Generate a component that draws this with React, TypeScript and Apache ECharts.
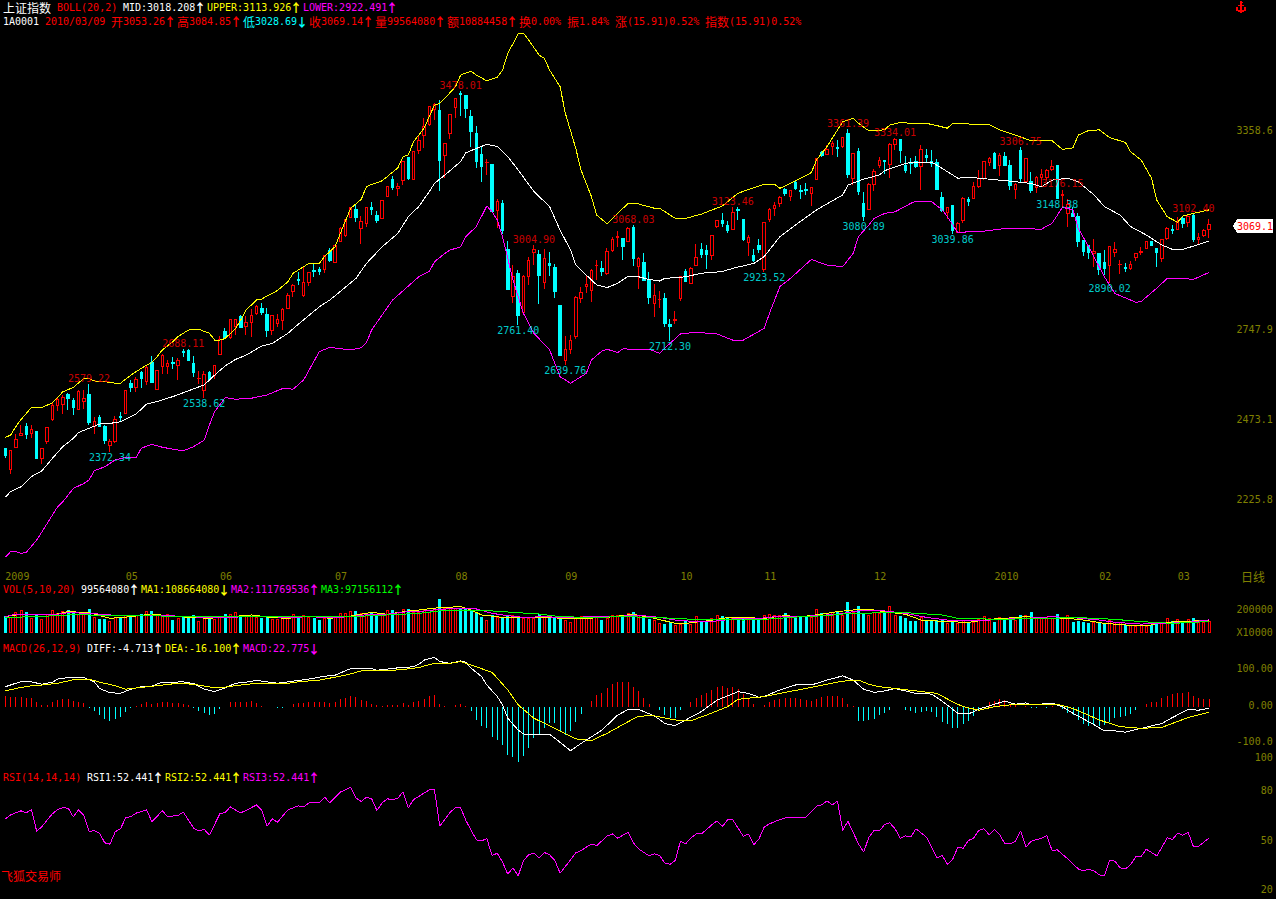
import React, { useEffect, useRef } from "react";
import * as echarts from "echarts";

const COUNT = 231;
const categories = Array.from({ length: COUNT }, (_, i) => String(i));
const monthLabels: Record<number, string> = { 0: "2009", 23: "05", 41: "06", 63: "07", 86: "08", 107: "09", 129: "10", 145: "11", 166: "12", 189: "2010", 209: "02", 224: "03" };

// [open, close, low, high]
const ohlc1 = [
[2382,2363,2355,2385],[2320,2378,2305,2378],[2387,2411,2384,2426],[2423,2430,2422,2455],[2449,2427,2411,2461],[2429,2442,2414,2454],[2434,2352,2352,2436],[2352,2384,2337,2384],[2405,2448,2397,2450],[2472,2516,2468,2523],
[2516,2532,2499,2540],[2519,2540,2489,2547],[2547,2537,2501,2552],[2530,2509,2486,2537],[2504,2558,2501,2562],[2527,2537,2504,2562],[2550,2463,2455,2579.22],[2450,2465,2428,2479],[2479,2452,2448,2486],[2452,2409,2397,2455],
[2392,2404,2372.34,2412],[2406,2472,2401,2483],[2480,2477,2465,2495],[2491,2561,2489,2561],[2581,2570,2556,2593],[2569,2595,2556,2601],[2615,2599,2568,2622],[2588,2631,2577,2638],[2648,2585,2585,2666],[2564,2621,2562,2624],
[2634,2667,2612,2673],[2634,2642,2611,2654],[2647,2644,2627,2664],[2638,2654,2593,2659],[2680,2678,2664,2688.11],[2683,2654,2654,2687],[2642,2615,2601,2666],[2596,2598,2581,2622],[2560,2611,2538.62,2619],[2616,2593,2591,2621],
[2608,2637,2596,2639],[2672,2718,2670,2728],[2740,2724,2718,2752],[2724,2779,2719,2779],[2756,2777,2731,2779],[2787,2754,2752,2792],[2756,2770,2731,2789],[2769,2789,2726,2809],[2797,2818,2791,2824],[2813,2799,2791,2828],
[2795,2746,2726,2813],[2746,2791,2732,2793],[2767,2777,2754,2795],[2775,2810,2746,2813],[2812,2853,2812,2858],[2863,2881,2848,2887],[2901,2897,2884,2924],[2853,2891,2846,2940],[2891,2922,2882,2925],[2928,2924,2909,2948],
[2930,2926,2914,2940],[2932,2973,2920,2976],[2989,2960,2955,2996],[2952,3004,2950,3006],[3017,3057,3015,3060],[3034,3083,3030,3086],[3091,3122,3089,3124],[3116,3090,3078,3129],[3056,3078,3009,3095],[3073,3122,3062,3124],
[3122,3114,3098,3138],[3098,3080,3075,3112],[3087,3143,3086,3144],[3154,3186,3152,3187],[3208,3182,3175,3218],[3179,3187,3157,3196],[3204,3263,3190,3265],[3273,3210,3205,3277],[3206,3293,3205,3295],[3297,3325,3285,3343],
];
const ohlc2 = [
[3341,3369,3304,3396],[3374,3432,3372,3432],[3422,3437,3389,3440],[3417,3265,3173,3450],[3280,3318,3211,3320],[3348,3407,3331,3409],[3427,3456,3396,3458],[3471,3467,3401,3478.01],[3463,3424,3396,3463],[3399,3353,3308,3420],
[3348,3262,3243,3371],[3285,3248,3200,3308],[3258,3260,3221,3270],[3254,3108,3108,3254],[3111,3139,3059,3147],[3134,3052,3040,3144],[2993,2871,2871,3020],[2848,2911,2828,2945],[2918,2789,2761.4,2930],[2799,2911,2797,2915],
[2909,2960,2884,2969],[2983,2993,2945,3004.9],[2978,2914,2826,2991],[2891,2966,2871,2993],[2949,2945,2911,2986],[2938,2863,2845,2948],[2820,2669,2666,2820],[2654,2685,2639.76,2728],[2685,2715,2673,2731],[2726,2846,2720,2850],
[2843,2860,2828,2879],[2879,2884,2858,2914],[2867,2928,2833,2932],[2943,2945,2899,2960],[2935,2925,2911,2957],[2918,2987,2916,2996],[2991,3024,2986,3030],[3029,3032,3001,3049],[3027,3001,2960,3027],[3017,3057,3015,3060],
[3060,2966,2942,3068.03],[2940,2966,2871,2969],[2953,2899,2897,2981],[2899,2845,2826,2924],[2828,2851,2785,2887],[2838,2840,2812,2866],[2843,2766,2756,2858],[2764,2756,2712.3,2779],[2775,2779,2764,2804],[2842,2909,2835,2911],
[2925,2896,2894,2932],[2889,2935,2887,2938],[2945,2969,2942,3009],[2993,2978,2966,3012],[2991,2976,2932,3005],[2974,3036,2960,3038],[3063,3081,3057,3083],[3080,3071,3063,3105],[3067,3050,3044,3080],[3055,3106,3054,3123.46],
[3115,3112,3083,3124],[3085,3022,3020,3085],[3015,3030,2973,3037],[2975,2960,2955,2993],[3006,2993,2983,3024],[2930,3076,2923.52,3078],[3083,3114,3076,3119],[3119,3126,3096,3139],[3134,3152,3124,3156],[3175,3163,3156,3180],
[3156,3173,3141,3175],[3198,3180,3175,3203],[3173,3171,3147,3190],[3177,3173,3159,3195],[3165,3183,3126,3185],[3207,3272,3205,3272],[3289,3281,3275,3294],[3285,3299,3282,3313],[3308,3318,3281,3325],[3306,3303,3277,3328],
];
const ohlc3 = [
[3308,3335,3302,3336],[3348,3221,3213,3361.39],[3211,3287,3190,3289],[3292,3170,3160,3302],[3134,3095,3080.89,3168],[3116,3192,3114,3195],[3191,3233,3173,3239],[3251,3266,3241,3275],[3264,3262,3224,3267],[3254,3313,3211,3318],
[3313,3328,3297,3334.01],[3328,3295,3257,3328],[3251,3236,3226,3279],[3260,3257,3224,3272],[3261,3246,3241,3279],[3246,3299,3175,3313],[3279,3275,3260,3300],[3261,3257,3246,3297],[3259,3177,3175,3269],[3152,3112,3107,3168],
[3105,3121,3085,3124],[3126,3052,3039.86,3129],[3045,3073,3044,3076],[3080,3149,3073,3152],[3147,3139,3126,3154],[3148,3187,3147,3198],[3187,3209,3182,3236],[3209,3261,3205,3264],[3260,3272,3248,3277],[3287,3242,3239,3292],
[3251,3279,3218,3289],[3277,3251,3251,3292],[3251,3190,3175,3267],[3177,3193,3148,3195],[3297,3211,3195,3306.75],[3200,3270,3195,3272],[3202,3173,3167,3231],[3183,3214,3165,3218],[3214,3221,3183,3238],[3212,3234,3205,3238],
[3239,3246,3234,3267],[3249,3149,3148.38,3251],[3158,3162,3119,3176.15],[3103,3131,3063,3147],[3103,3093,3091,3122],[3093,3017,3001,3105],[3019,2985,2973,3022],[3004,2983,2965,3006],[2979,2986,2940,3024],[2981,2930,2914,2983],
[2954,2935,2914,2991],[2945,3002,2890.02,3004],[2983,2994,2971,3016],[2946,2948,2919,2960],[2937,2934,2925,2950],[2933,2948,2930,2956],[2968,2981,2957,2983],[2984,2986,2975,3000],[2995,3018,2994,3019],[3016,3004,3003,3019],
[2996,2983,2940,2998],[2964,3022,2955,3022],[3025,3058,3022,3060],[3053,3050,3040,3068],[3055,3078,3053,3091],[3088,3073,3057,3095],[3075,3095,3063,3098],[3096,3022,3017,3102.4],[3024,3030,3010,3042],[3034,3052,3030,3054],
[3053.26,3069.14,3028.69,3084.85],
];
const ohlc = [...ohlc1, ...ohlc2, ...ohlc3];

const highLabels = [[16,2579.22],[34,2688.11],[87,3478.01],[101,3004.9],[120,3068.03],[139,3123.46],[161,3361.39],[170,3334.01],[194,3306.75],[202,3176.15],[227,3102.4]];
const lowLabels = [[20,2372.34],[38,2538.62],[98,2761.4],[107,2639.76],[127,2712.3],[145,2923.52],[164,3080.89],[181,3039.86],[201,3148.38],[211,2890.02]];

const bollUpper = [[0,2417],[1,2424],[2,2450],[3,2472],[5,2509],[7,2509],[9,2523],[11,2557],[13,2570],[15,2598],[16,2598],[17,2590],[19,2588],[21,2583],[22,2583],[24,2608],[26,2629],[28,2647],[29,2664],[30,2685],[32,2710],[33,2726],[35,2746],[37,2748],[39,2736],[40,2715],[41,2715],[42,2720],[44,2751],[45,2777],[46,2807],[48,2838],[49,2841],[50,2850],[52,2867],[54,2894],[55,2920],[57,2940],[58,2950],[60,2950],[61,2971],[63,3001],[64,3042],[66,3119],[68,3146],[69,3185],[70,3192],[72,3203],[75,3243],[76,3277],[77,3282],[78,3323],[79,3343],[80,3364],[82,3435],[83,3440],[84,3456],[86,3491],[87,3527],[89,3539],[90,3527],[92,3509],[94,3520],[95,3542],[96,3593],[98,3653],[99,3655],[100,3634],[102,3588],[103,3578],[104,3542],[106,3491],[107,3410],[109,3302],[110,3236],[112,3154],[113,3098],[115,3071],[117,3103],[119,3134],[121,3132],[124,3119],[125,3119],[128,3088],[130,3088],[133,3101],[137,3126],[140,3165],[143,3182],[145,3192],[147,3192],[148,3180],[151,3203],[154,3228],[155,3267],[157,3308],[160,3384],[161,3389],[162,3394],[163,3379],[165,3356],[168,3359],[169,3374],[171,3382],[174,3377],[176,3379],[178,3372],[180,3364],[181,3379],[184,3377],[188,3375],[190,3359],[192,3348],[196,3326],[200,3326],[202,3299],[204,3304],[205,3343],[207,3357],[209,3359],[211,3335],[214,3321],[215,3292],[217,3267],[219,3211],[220,3144],[222,3093],[224,3076],[225,3095],[227,3103],[230,3113.93]];
const bollMid = [[0,2234],[1,2251],[3,2266],[5,2297],[7,2315],[9,2353],[11,2389],[13,2414],[14,2432],[16,2445],[18,2458],[20,2460],[22,2465],[25,2489],[27,2519],[29,2527],[32,2542],[35,2560],[38,2578],[40,2608],[42,2636],[44,2656],[46,2669],[49,2697],[51,2705],[54,2736],[56,2764],[60,2817],[62,2838],[64,2864],[67,2904],[69,2950],[72,3001],[75,3042],[77,3093],[79,3124],[81,3170],[82,3195],[84,3221],[87,3262],[88,3289],[90,3302],[92,3315],[94,3308],[96,3277],[98,3236],[101,3170],[104,3124],[106,3052],[108,2991],[109,2945],[112,2899],[113,2884],[115,2876],[117,2889],[119,2911],[121,2909],[123,2901],[125,2896],[126,2904],[130,2909],[133,2920],[137,2925],[139,2935],[143,2950],[145,2971],[148,3032],[151,3068],[155,3114],[160,3160],[161,3190],[164,3208],[167,3221],[168,3234],[171,3251],[173,3260],[177,3260],[179,3241],[182,3211],[184,3214],[188,3208],[192,3202],[196,3195],[198,3185],[200,3205],[203,3211],[205,3200],[208,3160],[210,3124],[213,3098],[215,3063],[218,3037],[221,3006],[223,2993],[225,2993],[227,3003],[230,3018.21]];
const bollLower = [[0,2050],[1,2067],[2,2067],[3,2062],[4,2065],[6,2103],[7,2128],[10,2205],[11,2220],[13,2261],[15,2276],[16,2287],[17,2315],[19,2327],[21,2348],[23,2356],[25,2356],[26,2384],[28,2396],[30,2387],[32,2381],[34,2376],[36,2389],[38,2409],[39,2455],[40,2496],[42,2539],[44,2534],[47,2537],[50,2547],[53,2567],[55,2565],[57,2593],[60,2680],[62,2693],[66,2685],[68,2692],[69,2707],[70,2746],[74,2838],[79,2909],[81,2925],[82,2955],[84,2981],[85,2991],[87,3001],[88,3032],[90,3063],[92,3126],[93,3108],[94,3083],[95,3032],[97,2899],[99,2797],[101,2736],[104,2685],[106,2603],[108,2583],[111,2613],[112,2654],[114,2682],[115,2687],[117,2677],[118,2688],[123,2687],[125,2675],[127,2705],[129,2734],[132,2739],[136,2734],[139,2715],[141,2715],[145,2751],[146,2797],[148,2879],[150,2904],[154,2962],[157,2945],[160,2940],[162,2981],[163,3032],[165,3068],[166,3088],[168,3103],[170,3108],[173,3134],[174,3141],[177,3139],[179,3114],[180,3093],[182,3044],[184,3047],[187,3049],[191,3057],[198,3055],[200,3073],[202,3122],[204,3114],[205,3057],[207,3001],[210,2909],[212,2858],[216,2831],[217,2833],[220,2874],[222,2904],[225,2904],[227,2901],[230,2922.49]];

// volume, in millions of shares
const volumes = [
145,139,183,197,177,131,160,119,160,197,168,189,197,168,160,162,206,139,119,119,102,139,125,154,148,154,162,189,189,154,148,160,110,125,139,139,154,102,139,125,119,139,160,160,183,148,148,148,139,131,139,119,119,131,139,160,148,154,139,125,110,131,125,139,168,168,189,189,168,168,177,160,160,197,197,177,203,206,183,183,
197,183,212,293,212,212,218,218,212,191,174,139,110,154,139,139,154,154,133,125,125,131,160,139,154,139,131,110,90,139,145,139,145,145,110,125,154,154,154,174,180,154,145,119,110,87,78,90,67,78,102,78,145,96,90,125,154,145,125,139,125,139,125,125,125,154,162,154,154,168,145,139,139,139,139,206,168,160,183,177,
154,267,183,232,160,154,183,168,168,232,154,145,125,102,102,133,110,110,110,116,81,96,81,110,90,90,119,145,125,96,133,125,133,110,154,154,180,139,125,139,125,162,125,154,96,104,90,81,90,90,81,110,96,90,67,67,58,75,58,67,73,90,125,102,119,96,119,125,90,90,99.56,
];
const volMa1 = [[0,139],[2,154],[6,162],[9,154],[12,183],[16,174],[20,125],[24,139],[28,162],[31,148],[35,133],[39,125],[43,139],[47,154],[51,131],[54,125],[58,145],[62,125],[66,145],[70,177],[73,160],[77,189],[79,197],[83,218],[87,226],[89,197],[91,154],[95,133],[98,131],[102,133],[107,125],[111,125],[115,133],[120,160],[124,125],[128,81],[130,81],[134,102],[138,131],[141,131],[145,125],[149,148],[152,139],[156,160],[159,183],[162,197],[165,203],[168,183],[172,160],[175,110],[180,96],[184,90],[188,116],[191,125],[195,139],[199,125],[203,125],[206,110],[210,81],[214,67],[218,58],[221,90],[225,96],[230,108.66]];
const volMa2 = [[0,139],[2,162],[6,160],[9,154],[12,174],[16,168],[20,154],[24,145],[28,148],[31,148],[35,139],[39,131],[43,131],[47,145],[51,139],[54,131],[58,139],[62,131],[66,139],[70,162],[73,160],[77,183],[79,183],[83,203],[87,212],[90,206],[93,168],[96,148],[99,133],[103,139],[107,131],[112,139],[117,139],[120,154],[124,139],[128,110],[132,96],[136,102],[140,125],[143,119],[147,139],[151,139],[155,148],[159,160],[160,168],[163,189],[168,189],[172,168],[176,133],[181,104],[186,104],[190,116],[195,125],[200,139],[204,131],[209,110],[212,90],[217,75],[222,81],[226,90],[230,111.77]];
const volMa3 = [[0,133],[6,139],[12,154],[16,154],[20,145],[28,154],[31,139],[39,139],[47,139],[54,139],[58,139],[66,139],[73,154],[79,168],[84,194],[89,197],[93,189],[98,174],[102,162],[106,139],[112,133],[118,139],[124,133],[130,119],[136,116],[141,110],[146,119],[152,139],[157,148],[160,162],[163,168],[171,177],[179,154],[182,125],[190,116],[199,125],[205,131],[212,116],[217,96],[223,81],[230,97.16]];

const macdHist = [
30.5,28.6,26.7,26.7,25.7,23.8,12.4,3.8,4.8,12.4,19,21.9,21.9,16.2,13.3,11.4,-2.9,-12.4,-23.8,-35.2,-41,-35.2,-28.6,-16.2,-2.9,1.9,6.7,12.4,6.7,10.5,12.4,13.3,11.4,9.5,6.7,4.8,-2.9,-12.4,-17.1,-23.8,-21,-7.6,0,12.4,12.4,14.3,14.3,16.2,9.5,1,0,0,-2.9,-2.9,0,6.7,10.5,10.5,13.3,13.3,13.3,12.4,10.5,14.3,21.9,25.7,30.5,27.6,19,15.2,6.7,3.8,2.9,4.8,3.8,3.8,10.5,5.7,13.3,15.2,
21.9,29.5,33.3,7.6,1,0,4.8,6.7,1.9,-12.4,-38.1,-55.2,-61.9,-85.7,-95.2,-109.5,-138,-142.9,-157,-140,-117,-88.6,-79,-60,-45.7,-45.7,-71.4,-81,-68.6,-42.9,-21,0,16.2,33.3,38.1,52.4,64.8,69.5,69.5,69.5,57.1,44.8,23.8,6.7,0,-9.5,-23.8,-33.3,-31.4,-9.5,0,13.3,23.8,33.3,38.1,46.7,57.1,60,52.4,56.2,50.5,35.2,23.8,6.7,0,4.8,12.4,19,21.9,25.7,25.7,23.8,21.9,19,16.2,21.9,28.6,31.4,30.5,30.5,
23.8,6.7,1.9,-41,-41,-38,-35,-24,-19,-9.5,-2,-1,-10.5,-12.4,-17,-15,-12.4,-14,-28.6,-43,-50,-62,-62,-50,-40,-27,-9.5,0,12.4,16.2,21,19,7.6,7.6,-2,2,-3,-4,0,-3,3,-1.9,-6.7,-19,-23.8,-38,-50.5,-54.3,-52.4,-55.2,-52.4,-42.9,-31.4,-28.6,-25.7,-21.9,-9.5,-1,6.7,12.4,14.3,23.8,31.4,35.2,38.1,40,42.9,30.5,25.7,21.9,22.78,
];
const macdDiff = [[0,57],[2,67],[3,71],[5,71],[7,64],[9,70],[10,79],[12,83],[15,83],[17,71],[18,52],[20,40],[22,38],[24,50],[26,57],[28,59],[30,70],[32,70],[34,71],[36,66],[38,50],[40,43],[42,54],[44,67],[46,70],[48,75],[50,71],[52,67],[55,73],[58,79],[61,87],[63,90],[66,109],[70,109],[71,104],[75,111],[78,114],[79,121],[80,133],[82,141],[83,129],[85,124],[87,131],[88,127],[89,110],[91,86],[92,62],[94,29],[95,5],[96,-33],[98,-67],[99,-78],[102,-81],[104,-79],[105,-90],[107,-114],[108,-126],[110,-105],[114,-67],[117,-24],[119,-8],[121,-8],[124,-26],[126,-48],[128,-54],[130,-38],[133,-14],[136,19],[140,43],[142,38],[144,27],[145,29],[148,48],[151,62],[154,62],[157,76],[160,88],[162,76],[164,50],[166,41],[168,45],[170,52],[174,38],[177,36],[179,16],[182,-19],[184,-21],[186,-7],[189,7],[191,16],[193,7],[195,11],[196,5],[200,10],[202,0],[204,-19],[207,-43],[210,-69],[212,-69],[214,-73],[217,-62],[221,-48],[223,-31],[226,-8],[228,-10],[230,-4.71]];
const macdDea = [[0,45],[2,52],[5,60],[7,62],[10,67],[13,77],[16,79],[18,70],[21,60],[23,50],[26,55],[29,60],[33,67],[36,64],[40,54],[42,56],[46,64],[49,67],[53,65],[56,71],[60,76],[65,90],[68,102],[71,104],[74,104],[77,108],[79,112],[82,124],[85,124],[87,129],[90,114],[93,98],[96,48],[98,5],[101,-33],[105,-62],[109,-92],[112,-97],[115,-76],[119,-43],[121,-27],[124,-26],[128,-38],[131,-40],[134,-24],[138,0],[140,21],[145,29],[149,41],[154,55],[160,73],[163,76],[165,64],[167,57],[170,52],[174,45],[178,38],[181,14],[183,0],[186,-10],[189,0],[193,7],[201,7],[204,-5],[209,-38],[213,-57],[217,-62],[221,-59],[226,-31],[230,-16.1]];

const rsiLine = [[0,62.8],[1,65.2],[3,67.7],[4,66.5],[5,68.3],[6,55.2],[7,58.2],[9,65.9],[10,68.5],[11,69.5],[12,69.3],[13,64],[14,68.3],[15,64.9],[16,55.2],[17,55.6],[18,54.1],[19,48.3],[20,47.5],[21,55],[22,56.8],[23,63.4],[24,64.2],[25,66.3],[27,68.3],[28,61],[30,67.7],[31,64.2],[33,64.9],[34,66.9],[36,57.2],[37,55.4],[38,56.4],[39,53.1],[41,65.9],[42,66.7],[43,70.1],[44,68.1],[45,66.5],[46,67.9],[48,71.3],[49,67.9],[50,58.4],[51,62.8],[52,60.8],[54,68.3],[56,70.7],[57,70.1],[58,72.5],[60,72.5],[61,76],[62,72.5],[64,79],[66,82],[67,75.4],[68,73.3],[69,76],[70,75],[71,67.9],[72,72.5],[73,75],[74,74.3],[75,75.4],[76,79.2],[77,69.5],[78,74.5],[79,76.4],[81,80.4],[82,80.4],[83,58.4],[85,66.9],[86,69.5],[87,69.5],[88,61.8],[90,50.1],[91,49.5],[92,50.9],[93,40.6],[94,42],[95,36.6],[96,29.3],[97,33.1],[98,28.3],[99,37.6],[100,41],[101,42],[102,39],[103,42.4],[104,41],[105,37.6],[106,29.9],[107,33.9],[109,42.2],[110,43.6],[112,47.6],[113,46.6],[115,52.4],[116,53.7],[117,51.1],[119,54.7],[120,48.3],[121,44.6],[123,40.4],[124,41.6],[125,40.6],[126,36],[127,35.3],[128,37.6],[129,49.3],[130,47.7],[131,51.3],[132,53.7],[133,53.7],[135,59.2],[136,61.6],[137,58.2],[138,62.2],[139,62.2],[141,52.3],[142,53.7],[143,47.1],[144,50.7],[145,57.8],[146,59.8],[148,62.4],[149,63.4],[152,63.4],[153,63.8],[155,70.5],[156,71.3],[157,73.7],[158,71.3],[159,73.7],[160,55.8],[161,61.4],[163,47.7],[164,42.6],[165,51.7],[166,55.8],[167,55.4],[168,59.4],[169,60.4],[170,56.8],[171,51.1],[172,52.5],[173,51.9],[174,56.8],[176,51.7],[177,45.7],[178,39],[179,40.6],[180,35.3],[181,38.2],[182,45.7],[183,45],[184,49.7],[185,51.1],[186,55.8],[187,56.8],[188,53.1],[189,56.2],[190,53.1],[191,47.7],[192,47.7],[193,49.1],[194,55.4],[195,45.7],[196,49.3],[198,51.1],[199,52.7],[200,43.6],[201,44],[203,38.6],[205,32.5],[206,31.3],[207,32.3],[208,31.3],[209,28.9],[210,28.3],[211,37.8],[212,37.2],[213,33.1],[214,32.5],[215,35],[216,39.8],[217,40],[218,44.4],[220,40.4],[221,45.7],[222,51.3],[223,50.3],[224,54.1],[225,52.9],[226,54.7],[227,46],[228,46.2],[230,51.2]];

const priceTicks = [3358.6, 3053.2, 2747.9, 2473.1, 2225.8];
const volTicks = [200, 0];
const macdTicks = [100, 0, -100];
const rsiTicks = [100, 80, 50, 20];

const FONT = '"DejaVu Sans Mono", "Liberation Mono", monospace';
const CJK = '"Noto Sans CJK SC", sans-serif';
const OLIVE = "#808000";
const RED = "#ff0000";
const CYAN = "#00ffff";
const YELLOW = "#ffff00";
const MAGENTA = "#ff00ff";
const GREEN = "#00ff00";
const WHITE = "#ffffff";

const txt = (text: string, x: number, y: number, fill: string, cjk = false) => ({
  type: "text",
  silent: true,
  z: 50,
  x,
  y,
  style: { text, fill, fontFamily: cjk ? CJK : FONT, fontSize: cjk ? 12 : 10, textAlign: "left", textVerticalAlign: "middle" },
});
const arrow = (text: string, x: number, y: number, fill: string) => ({
  type: "text",
  silent: true,
  z: 50,
  x,
  y,
  style: { text, fill, fontFamily: CJK, fontSize: 12, fontWeight: "bold", textAlign: "center", textVerticalAlign: "middle" },
});

const header = [
  txt("上证指数", 3, 7, WHITE, true),
  txt("BOLL(20,2)", 57, 7, RED), txt("MID:3018.208", 123, 7, WHITE), arrow("↑", 200, 7, WHITE),
  txt("UPPER:3113.926", 207, 7, YELLOW), arrow("↑", 296, 7, YELLOW),
  txt("LOWER:2922.491", 303, 7, MAGENTA), arrow("↑", 392, 7, MAGENTA),
  txt("1A0001", 3, 21, WHITE), txt("2010/03/09", 45, 21, RED),
  txt("开", 111, 21, RED, true), txt("3053.26", 123, 21, RED), arrow("↑", 170, 21, RED),
  txt("高", 177, 21, RED, true), txt("3084.85", 189, 21, RED), arrow("↑", 236, 21, RED),
  txt("低", 243, 21, CYAN, true), txt("3028.69", 255, 21, CYAN), arrow("↓", 302, 21, CYAN),
  txt("收", 309, 21, RED, true), txt("3069.14", 321, 21, RED), arrow("↑", 368, 21, RED),
  txt("量", 375, 21, RED, true), txt("99564080", 387, 21, RED), arrow("↑", 440, 21, RED),
  txt("额", 447, 21, RED, true), txt("10884458", 459, 21, RED), arrow("↑", 512, 21, RED),
  txt("换", 519, 21, RED, true), txt("0.00%", 531, 21, RED),
  txt("振", 567, 21, RED, true), txt("1.84%", 579, 21, RED),
  txt("涨", 615, 21, RED, true), txt("(15.91)0.52%", 627, 21, RED),
  txt("指数", 705, 21, RED, true), txt("(15.91)0.52%", 729, 21, RED),
];
const anchorIcon = [
  { type: "circle", silent: true, z: 50, shape: { cx: 1241, cy: 2.5, r: 1.5 }, style: { fill: RED } },
  { type: "line", silent: true, z: 50, shape: { x1: 1241, y1: 2, x2: 1241, y2: 13 }, style: { stroke: RED, lineWidth: 2 } },
  { type: "line", silent: true, z: 50, shape: { x1: 1238, y1: 5, x2: 1244, y2: 5 }, style: { stroke: RED, lineWidth: 1 } },
  { type: "polyline", silent: true, z: 50, shape: { points: [[1237, 7], [1237, 10], [1241, 12], [1245, 10], [1245, 7]] }, style: { stroke: RED, lineWidth: 2, fill: "none" } },
];
const volLegend = [
  txt("VOL(5,10,20)", 3, 589, RED), txt("99564080", 81, 589, WHITE), arrow("↑", 134, 589, WHITE),
  txt("MA1:108664080", 141, 589, YELLOW), arrow("↓", 224, 589, YELLOW),
  txt("MA2:111769536", 231, 589, MAGENTA), arrow("↑", 314, 589, MAGENTA),
  txt("MA3:97156112", 321, 589, GREEN), arrow("↑", 398, 589, GREEN),
];
const macdLegend = [
  txt("MACD(26,12,9)", 3, 648, RED), txt("DIFF:-4.713", 87, 648, WHITE), arrow("↑", 158, 648, WHITE),
  txt("DEA:-16.100", 165, 648, YELLOW), arrow("↑", 236, 648, YELLOW),
  txt("MACD:22.775", 243, 648, MAGENTA), arrow("↓", 314, 648, MAGENTA),
];
const rsiLegend = [
  txt("RSI(14,14,14)", 3, 777, RED), txt("RSI1:52.441", 87, 777, WHITE), arrow("↑", 158, 777, WHITE),
  txt("RSI2:52.441", 165, 777, YELLOW), arrow("↑", 236, 777, YELLOW),
  txt("RSI3:52.441", 243, 777, MAGENTA), arrow("↑", 314, 777, MAGENTA),
];
const footer = [txt("飞狐交易师", 1, 875, RED, true), txt("日线", 1241, 576, OLIVE, true)];
const priceTag = [
  { type: "polygon", silent: true, z: 60, shape: { points: [[1233, 226], [1237, 219], [1273, 219], [1273, 233], [1237, 233]] }, style: { fill: WHITE } },
  { ...txt("3069.1", 1237, 226, RED), z: 61 },
];

const LEFT = 2.7;
const WIDTH = 1209;
const grids = [
  { left: LEFT, width: WIDTH, top: 28, height: 534 },
  { left: LEFT, width: WIDTH, top: 597, height: 35.7 },
  { left: LEFT, width: WIDTH, top: 640, height: 130 },
  { left: LEFT, width: WIDTH, top: 757, height: 138 },
];

const hiddenX = (gridIndex: number) => ({
  type: "category", gridIndex, data: categories, boundaryGap: true,
  axisLine: { show: false }, axisTick: { show: false }, axisLabel: { show: false }, splitLine: { show: false },
});

const rightY = (gridIndex: number, min: number, max: number, ticks: number[], fmt: (v: number) => string) => ({
  type: "value", gridIndex, min, max, position: "right", scale: false,
  axisLine: { show: false }, axisTick: { show: false }, splitLine: { show: false },
  axisLabel: { show: true, customValues: ticks, formatter: fmt, color: OLIVE, fontFamily: FONT, fontSize: 10, margin: 61, align: "right" },
});

const line = (name: string, data: number[][], color: string, xAxisIndex: number, yAxisIndex: number) => ({
  type: "line", name, data, xAxisIndex, yAxisIndex, showSymbol: false, symbol: "none", silent: true, z: 5,
  lineStyle: { color, width: 1 },
});

const pointLabels = (name: string, data: number[][], color: string, dy: number) => ({
  type: "scatter", name, data, xAxisIndex: 0, yAxisIndex: 0, symbolSize: 1, silent: true, z: 6,
  itemStyle: { color: "rgba(0,0,0,0)" },
  label: {
    show: true, position: "inside", offset: [0, dy], color, fontFamily: FONT, fontSize: 10,
    formatter: (p: any) => Number(p.value[1]).toFixed(2),
  },
});

function buildOption() {
  const up = (i: number) => ohlc[i][1] >= ohlc[i][0];
  return {
    animation: false,
    backgroundColor: "#000000",
    grid: grids,
    xAxis: [
      {
        ...hiddenX(0),
        axisLabel: {
          show: true, color: OLIVE, fontFamily: FONT, fontSize: 10, margin: 9, align: "left", hideOverlap: false,
          interval: (i: number) => monthLabels[i] !== undefined,
          formatter: (_: string, i: number) => monthLabels[i] ?? "",
        },
      },
      hiddenX(1), hiddenX(2), hiddenX(3),
    ],
    yAxis: [
      rightY(0, 2035.5, 3671, priceTicks, (v) => v.toFixed(1)),
      rightY(1, 0, 310, volTicks, (v) => (v === 0 ? "X10000" : "200000")),
      { type: "value", gridIndex: 2, min: -181, max: 190.6, show: false },
      rightY(2, -175.7, 175.7, macdTicks, (v) => (v === 0 ? "0.00" : v > 0 ? "100.00" : "-100.0")),
      rightY(3, 16.67, 100.3, rsiTicks, (v) => String(v)),
    ],
    graphic: { elements: [...header, ...anchorIcon, ...volLegend, ...macdLegend, ...rsiLegend, ...footer, ...priceTag] },
    series: [
      {
        type: "candlestick", name: "K", data: ohlc, xAxisIndex: 0, yAxisIndex: 0, barWidth: 3, silent: true, z: 2,
        itemStyle: { color: "#000000", color0: CYAN, borderColor: RED, borderColor0: CYAN, borderWidth: 1 },
      },
      line("UPPER", bollUpper, YELLOW, 0, 0),
      line("MID", bollMid, WHITE, 0, 0),
      line("LOWER", bollLower, MAGENTA, 0, 0),
      pointLabels("highs", highLabels, RED, -5.6),
      pointLabels("lows", lowLabels, CYAN, 5.5),
      {
        type: "bar", name: "VOL", xAxisIndex: 1, yAxisIndex: 1, barWidth: 3, silent: true, z: 2,
        data: volumes.map((v, i) => ({
          value: v,
          itemStyle: up(i) ? { color: "#000000", borderColor: RED, borderWidth: 1 } : { color: CYAN, borderColor: CYAN, borderWidth: 1 },
        })),
      },
      line("MA1", volMa1, YELLOW, 1, 1),
      line("MA2", volMa2, MAGENTA, 1, 1),
      line("MA3", volMa3, GREEN, 1, 1),
      {
        type: "bar", name: "MACD", xAxisIndex: 2, yAxisIndex: 2, barWidth: 1, silent: true, z: 2,
        data: macdHist.map((v) => ({ value: v, itemStyle: { color: v >= 0 ? RED : CYAN } })),
      },
      line("DIFF", macdDiff, WHITE, 2, 2),
      line("DEA", macdDea, YELLOW, 2, 2),
      line("RSI", rsiLine, MAGENTA, 3, 4),
    ],
  };
}

export default function App() {
  const ref = useRef<HTMLDivElement>(null);
  useEffect(() => {
    const chart = echarts.init(ref.current!, undefined, { renderer: "svg" });
    chart.setOption(buildOption() as any);
    return () => chart.dispose();
  }, []);
  return (
    <>
      <style>{"svg path, svg rect, svg polyline, svg line { shape-rendering: crispEdges; }"}</style>
      <div ref={ref} style={{ position: "absolute", left: 0, top: 0, width: 1276, height: 899, background: "#000" }} />
    </>
  );
}
